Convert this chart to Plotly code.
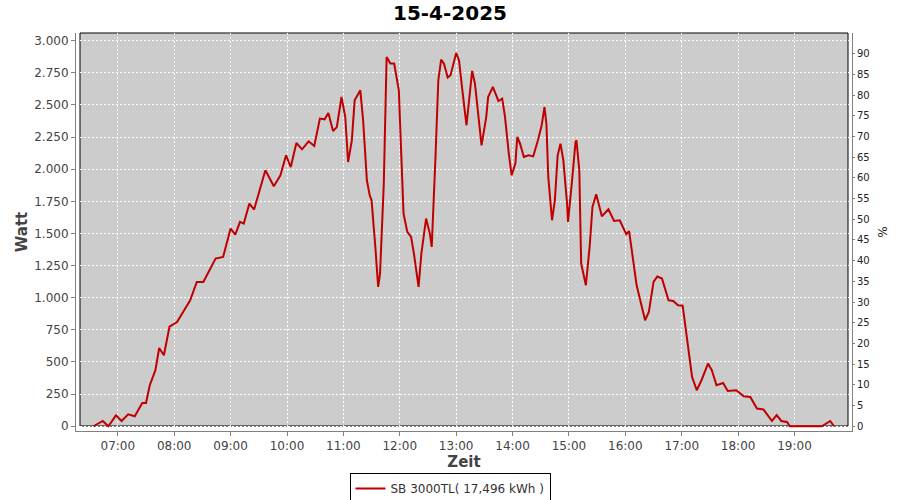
import pandas as pd
import plotly.graph_objects as go

# ---- data ----
date = "2025-04-15"
times = ["06:34", "06:44", "06:50", "06:58", "07:04", "07:11", "07:18", "07:26", "07:30", "07:34",
         "07:40", "07:44", "07:49", "07:55", "08:03", "08:13", "08:17", "08:24", "08:31", "08:44",
         "08:52", "09:00", "09:05", "09:10", "09:14", "09:20", "09:25", "09:37", "09:46", "09:53",
         "09:59", "10:04", "10:10", "10:16", "10:23", "10:29", "10:35", "10:40", "10:44", "10:49",
         "10:53", "10:58", "11:02", "11:05", "11:09", "11:12", "11:18", "11:21", "11:25", "11:28",
         "11:30", "11:34", "11:37", "11:39", "11:43", "11:46", "11:50", "11:54", "11:59", "12:01",
         "12:04", "12:08", "12:12", "12:15", "12:20", "12:23", "12:28", "12:32", "12:34", "12:38",
         "12:41", "12:44", "12:47", "12:51", "12:54", "13:00", "13:03", "13:07", "13:11", "13:13",
         "13:17", "13:20", "13:24", "13:27", "13:32", "13:34", "13:39", "13:45", "13:49", "13:52",
         "13:56", "13:59", "14:03", "14:05", "14:08", "14:12", "14:17", "14:22", "14:27", "14:31",
         "14:34", "14:36", "14:38", "14:42", "14:45", "14:48", "14:51", "14:54", "14:58", "14:59",
         "15:03", "15:07", "15:08", "15:11", "15:13", "15:18", "15:22", "15:25", "15:29", "15:35",
         "15:42", "15:48", "15:54", "16:01", "16:04", "16:08", "16:12", "16:21", "16:25", "16:30",
         "16:34", "16:39", "16:42", "16:46", "16:51", "16:56", "17:01", "17:05", "17:11", "17:16",
         "17:21", "17:28", "17:32", "17:37", "17:44", "17:49", "17:58", "18:06", "18:13", "18:20",
         "18:27", "18:36", "18:41", "18:46", "18:52", "18:55", "19:29", "19:38", "19:42"]
watt = [0, 41, 0, 85, 41, 93, 78, 181, 181, 319,
        436, 609, 552, 775, 811, 928, 980, 1123, 1123, 1305,
        1317, 1538, 1491, 1590, 1577, 1733, 1686, 1992, 1867, 1953,
        2108, 2017, 2204, 2155, 2217, 2181, 2394, 2388, 2437, 2297,
        2328, 2562, 2406, 2056, 2225, 2536, 2614, 2381, 1914, 1797,
        1758, 1395, 1084, 1190, 1888, 2873, 2822, 2822, 2614, 2225,
        1655, 1512, 1473, 1346, 1084, 1346, 1616, 1499, 1395, 2095,
        2692, 2853, 2822, 2713, 2731, 2904, 2848, 2588, 2342, 2484,
        2765, 2666, 2406, 2186, 2406, 2562, 2640, 2531, 2549, 2406,
        2122, 1953, 2044, 2251, 2199, 2095, 2108, 2100, 2225, 2342,
        2484, 2355, 1940, 1603, 1758, 2108, 2199, 2070, 1733, 1590,
        1888, 2212, 2225, 1992, 1266, 1097, 1395, 1706, 1805, 1634,
        1688, 1597, 1603, 1494, 1519, 1300, 1097, 825, 889, 1123,
        1165, 1149, 1084, 980, 975, 941, 938, 721, 384, 280,
        358, 488, 436, 319, 337, 275, 280, 233, 228, 138,
        130, 41, 86, 41, 33, 0, 0, 41, 0]
series_name = "SB 3000TL( 17,496 kWh )"
title_text = "15-4-2025"
x_tick_labels = ["07:00", "08:00", "09:00", "10:00", "11:00", "12:00", "13:00",
                 "14:00", "15:00", "16:00", "17:00", "18:00", "19:00"]
watt_ticks = list(range(0, 3001, 250))
pct_ticks = list(range(0, 91, 5))

x = pd.to_datetime([f"{date} {t}" for t in times])
xtickvals = pd.to_datetime([f"{date} {t}" for t in x_tick_labels])

fig = go.Figure()
fig.add_trace(go.Scatter(
    x=x, y=watt, mode="lines", name=series_name, showlegend=True,
    line=dict(color="#c00000", width=2),
))
fig.add_trace(go.Scatter(x=[], y=[], yaxis="y2", showlegend=False, hoverinfo="skip"))

font = "DejaVu Sans"
fig.update_layout(
    width=900, height=500,
    margin=dict(l=76, r=48, t=33, b=69),
    paper_bgcolor="white", plot_bgcolor="white",
    separators=",.",
    showlegend=True,
    font=dict(family=font, size=12, color="#444444"),
    title=dict(text="<b>" + title_text + "</b>", x=0.5, xref="container", xanchor="center",
               y=1 - 13 / 500, yref="container", yanchor="middle",
               font=dict(family=font, size=20, color="black")),
    xaxis=dict(
        range=[f"{date} 06:15:30", f"{date} 20:01:10"],
        tickvals=xtickvals, ticktext=x_tick_labels,
        showline=True, linecolor="#808080", linewidth=1,
        ticks="outside", ticklen=4, tickcolor="#808080",
        showgrid=True, gridcolor="white", griddash="2px,2px", gridwidth=1,
        zeroline=False, automargin=False,
        tickfont=dict(family=font, size=12, color="#444444"),
        title=dict(text="<b>Zeit</b>", font=dict(family=font, size=15, color="#444444"), standoff=3),
    ),
    yaxis=dict(
        range=[-37, 3060],
        tickvals=watt_ticks, tickformat=",d",
        showline=True, linecolor="#808080", linewidth=1,
        ticks="outside", ticklen=4, tickcolor="#808080",
        showgrid=True, gridcolor="white", griddash="2px,2px", gridwidth=1,
        zeroline=False, automargin=False,
        tickfont=dict(family=font, size=12, color="#444444"),
        title=dict(text="<b>Watt</b>", font=dict(family=font, size=15, color="#444444"), standoff=2),
    ),
    yaxis2=dict(
        overlaying="y", side="right",
        range=[-1.15, 95.0],
        tickvals=pct_ticks,
        showline=True, linecolor="#808080", linewidth=1,
        ticks="outside", ticklen=2, tickcolor="#808080",
        showgrid=False, zeroline=False, automargin=False,
        tickfont=dict(family=font, size=10, color="#222222"),
        title=dict(text="%", font=dict(family=font, size=12, color="#222222"), standoff=9),
    ),
    legend=dict(
        orientation="h", x=0.5, xanchor="center", xref="container",
        y=1 - 473 / 500, yanchor="top", yref="container",
        bordercolor="black", borderwidth=1, bgcolor="white",
        font=dict(family=font, size=12, color="#333333"),
        itemwidth=30,
    ),
    shapes=[
        dict(type="rect", xref="paper", yref="paper",
             x0=4 / 776, x1=772 / 776, y0=5 / 398, y1=1,
             fillcolor="#cccccc", line=dict(width=0), layer="below"),
        dict(type="rect", xref="paper", yref="paper",
             x0=4 / 776, x1=772 / 776, y0=5 / 398, y1=1,
             fillcolor="rgba(0,0,0,0)", line=dict(color="black", width=1), layer="between"),
    ],
)

fig.write_html("out.html", config={"displayModeBar": False},
               post_script="document.body.style.margin='0';")
